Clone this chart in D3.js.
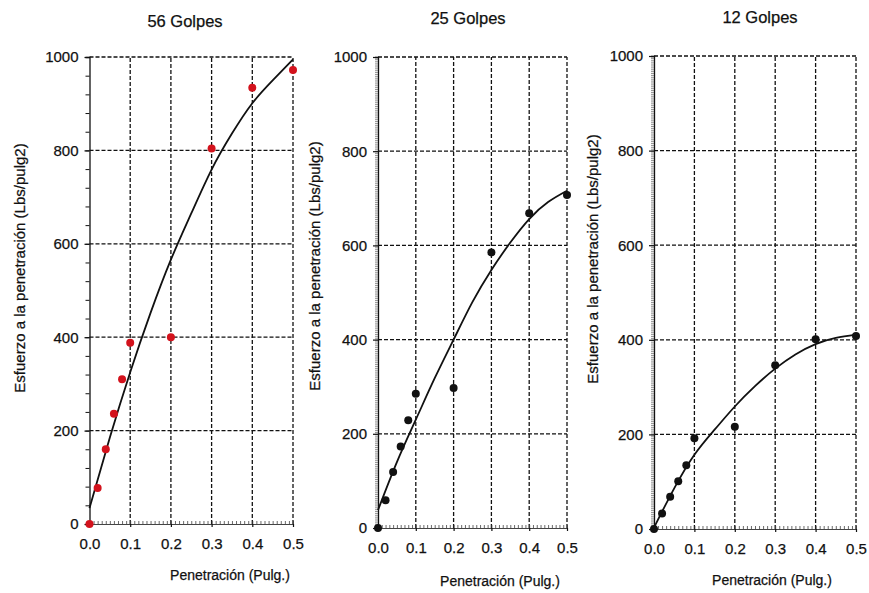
<!DOCTYPE html>
<meta charset="utf-8">
<style>
    body {
        margin: 0;
        background-color: #ffffff;
    }

    text {
        font-family: Arial, "Liberation Sans", sans-serif;
        fill: #111;
        stroke: #111;
        stroke-width: 0.25px;
    }

    .grid line {
        stroke: #111;
        stroke-width: 1.3px;
        stroke-dasharray: 4, 2;
    }
</style>

<body>
    <svg width="869" height="593"></svg>
    <script src="https://d3js.org/d3.v7.min.js"></script>
    <script>
        // measured points (penetration in inches, stress in lbs/pulg2)
        var penetration = [0, 0.02, 0.04, 0.06, 0.08, 0.1, 0.2, 0.3, 0.4, 0.5];
        var stress56 = [0, 77, 160, 236, 310, 388, 400, 804, 934, 972];
        var stress25 = [0, 59, 119, 173, 229, 285, 297, 585, 668, 707];
        var stress12 = [0, 33, 68, 101, 135, 192, 216, 346, 401, 408];

        // fitted curves
        var curvePen = [0, 0.05, 0.1, 0.15, 0.2, 0.25, 0.3, 0.35, 0.4, 0.45, 0.5];
        var curve56 = [34, 185, 325, 452, 566, 665, 759, 836, 901, 950, 995];
        var curve25 = [38, 140, 230, 318, 400, 480, 548, 606, 656, 692, 716];
        var curve12 = [3, 86, 157, 210, 259, 302, 339, 369, 391, 404, 411];

        var titles = ["56 Golpes", "25 Golpes", "12 Golpes"];
        var xTicks = [0, 0.1, 0.2, 0.3, 0.4, 0.5];
        var yTicks = [0, 200, 400, 600, 800, 1000];
        var xLabel = "Penetración (Pulg.)";
        var yLabel = "Esfuerzo a la penetración (Lbs/pulg2)";

        var svg = d3.select("svg");

        var panels = [
            { title: titles[0], pts: stress56, curve: curve56, color: "#d3121c",
              left: 89.5, right: 293, top: 57, bottom: 524, minor: 40, minorLen: 4,
              titleX: 185, titleY: 27, yLabX: 20, yLabY: 268, xLabX: 230, xLabY: 580 },
            { title: titles[1], pts: stress25, curve: curve25, color: "#111",
              left: 378, right: 567, top: 57, bottom: 528, minor: 4, minorLen: 3,
              titleX: 468, titleY: 24, yLabX: 315, yLabY: 266, xLabX: 500, xLabY: 586 },
            { title: titles[2], pts: stress12, curve: curve12, color: "#111",
              left: 654, right: 856, top: 56, bottom: 529, minor: 4, minorLen: 3,
              titleX: 760, titleY: 23, yLabX: 593, yLabY: 259, xLabX: 772, xLabY: 585 }
        ];

        panels.forEach(function (p) {
            var x = d3.scaleLinear().domain([0, 0.5]).range([p.left, p.right]);
            var y = d3.scaleLinear().domain([0, 1000]).range([p.bottom, p.top]);
            var g = svg.append("g");

            // dashed grid
            var grid = g.append("g").attr("class", "grid");
            grid.selectAll(".h")
                .data(yTicks.slice(1))
                .enter().append("line")
                .attr("x1", x(0)).attr("x2", x(0.5))
                .attr("y1", function (d) { return y(d); })
                .attr("y2", function (d) { return y(d); });
            grid.selectAll(".v")
                .data(xTicks.slice(1))
                .enter().append("line")
                .attr("y1", y(0)).attr("y2", y(1000))
                .attr("x1", function (d) { return x(d); })
                .attr("x2", function (d) { return x(d); });

            // bottom axis: thin line with dense minor ticks
            var xMinor = g.append("g")
                .attr("transform", "translate(0," + y(0) + ")")
                .call(d3.axisBottom(x).tickValues(d3.range(0, 0.5001, 0.01)).tickSize(-3).tickFormat(""));
            xMinor.select(".domain").attr("stroke", "#444").attr("stroke-width", 1);
            xMinor.selectAll(".tick line").attr("stroke", "#444").attr("stroke-width", 0.8);

            var xAxis = g.append("g")
                .attr("transform", "translate(0," + y(0) + ")")
                .call(d3.axisBottom(x).tickValues(xTicks).tickSize(3).tickPadding(11)
                    .tickFormat(d3.format(".1f")));
            xAxis.select(".domain").remove();
            xAxis.selectAll(".tick line").attr("stroke", "#111").attr("stroke-width", 1.2);
            xAxis.selectAll("text").style("font-size", "15px").attr("fill", "#111");

            // left axis: solid line, minor ticks
            var yMinor = g.append("g")
                .attr("transform", "translate(" + x(0) + ",0)")
                .call(d3.axisLeft(y).tickValues(d3.range(0, 1000.1, p.minor)).tickSize(p.minorLen).tickFormat(""));
            yMinor.select(".domain").attr("stroke", "#111").attr("stroke-width", 1.3);
            yMinor.selectAll(".tick line").attr("stroke", p.minor < 10 ? "#666" : "#111")
                .attr("stroke-width", p.minor < 10 ? 0.7 : 1);

            var yAxis = g.append("g")
                .attr("transform", "translate(" + x(0) + ",0)")
                .call(d3.axisLeft(y).tickValues(yTicks).tickSize(5).tickPadding(6)
                    .tickFormat(d3.format("d")));
            yAxis.select(".domain").remove();
            yAxis.selectAll(".tick line").attr("stroke", "#111").attr("stroke-width", 1.2);
            yAxis.selectAll("text").style("font-size", "15px").attr("fill", "#111");

            // fitted curve
            var line = d3.line()
                .x(function (d, i) { return x(curvePen[i]); })
                .y(function (d) { return y(d); })
                .curve(d3.curveNatural);
            g.append("path")
                .datum(p.curve)
                .attr("fill", "none")
                .attr("stroke", "#111")
                .attr("stroke-width", 1.8)
                .attr("d", line);

            // points
            g.selectAll(".dot")
                .data(p.pts)
                .enter().append("circle")
                .attr("cx", function (d, i) { return x(penetration[i]); })
                .attr("cy", function (d) { return y(d); })
                .attr("r", 4)
                .attr("fill", p.color);

            // texts
            g.append("text")
                .attr("x", p.titleX).attr("y", p.titleY)
                .attr("text-anchor", "middle")
                .style("font-size", "16.5px")
                .text(p.title);

            g.append("text")
                .attr("transform", "translate(" + p.yLabX + "," + p.yLabY + ") rotate(-90)")
                .attr("dy", "0.35em")
                .attr("text-anchor", "middle")
                .style("font-size", "15px")
                .text(yLabel);

            g.append("text")
                .attr("x", p.xLabX).attr("y", p.xLabY)
                .attr("text-anchor", "middle")
                .style("font-size", "14px")
                .text(xLabel);
        });
    </script>
</body>
